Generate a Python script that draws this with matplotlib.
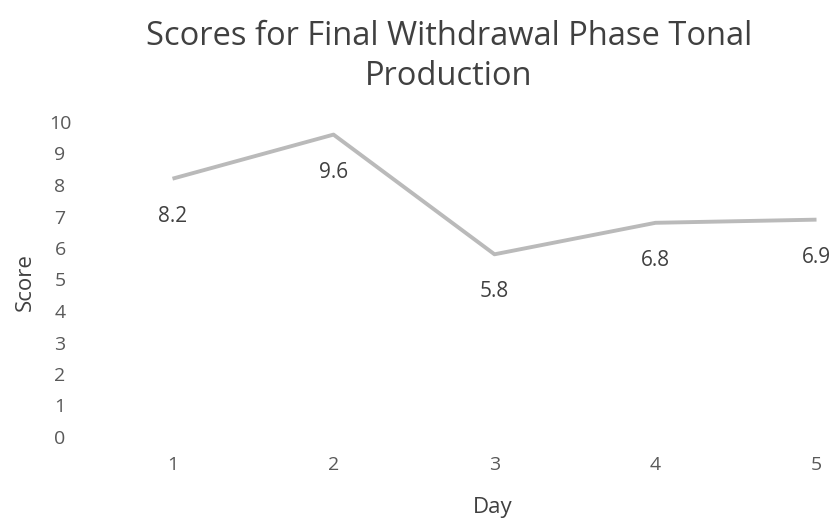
import matplotlib.pyplot as plt

# Datos
dias = [1, 2, 3, 4, 5]
puntajes = [8.2, 9.6, 5.8, 6.8, 6.9]
etiquetas_y = [0, 1, 2, 3, 4, 5, 6, 7, 8, 9, 10]

plt.rcParams['font.family'] = ['Open Sans', 'DejaVu Sans']

fig = plt.figure(figsize=(8.31, 5.2), dpi=100)
ax = fig.add_axes([92 / 831, 1 - 437 / 520, 739 / 831, 315 / 520])

ax.plot(dias, puntajes, color='#bababa', linewidth=2.8, solid_capstyle='butt')

for x, y in zip(dias, puntajes):
    ax.annotate(f"{y}", (x, y), xytext=(0, -27), textcoords='offset points',
                ha='center', va='center', fontsize=15, color='#404040')

ax.set_xlim(0.5, 5.09)
ax.set_ylim(0, 10)
ax.set_xticks(dias)
ax.set_yticks(etiquetas_y)
ax.tick_params(length=0, labelsize=14, colors='#595959')
ax.tick_params(axis='x', pad=14)
ax.tick_params(axis='y', pad=23)
for lbl in ax.get_yticklabels():
    lbl.set_horizontalalignment('center')
for s in ax.spines.values():
    s.set_visible(False)

fig.text(25 / 831, 1 - 282 / 520, 'Score', rotation=90, ha='center', va='center',
         fontsize=16, color='#404040')
fig.text(493 / 831, 1 - 507 / 520, 'Day', ha='center', va='center',
         fontsize=16, color='#404040')
fig.text(449 / 831, 1 - 56 / 520, 'Scores for Final Withdrawal Phase Tonal\nProduction',
         ha='center', va='center', fontsize=23.5, color='#404040', linespacing=1.28)

fig.savefig('out.png', dpi=100)
